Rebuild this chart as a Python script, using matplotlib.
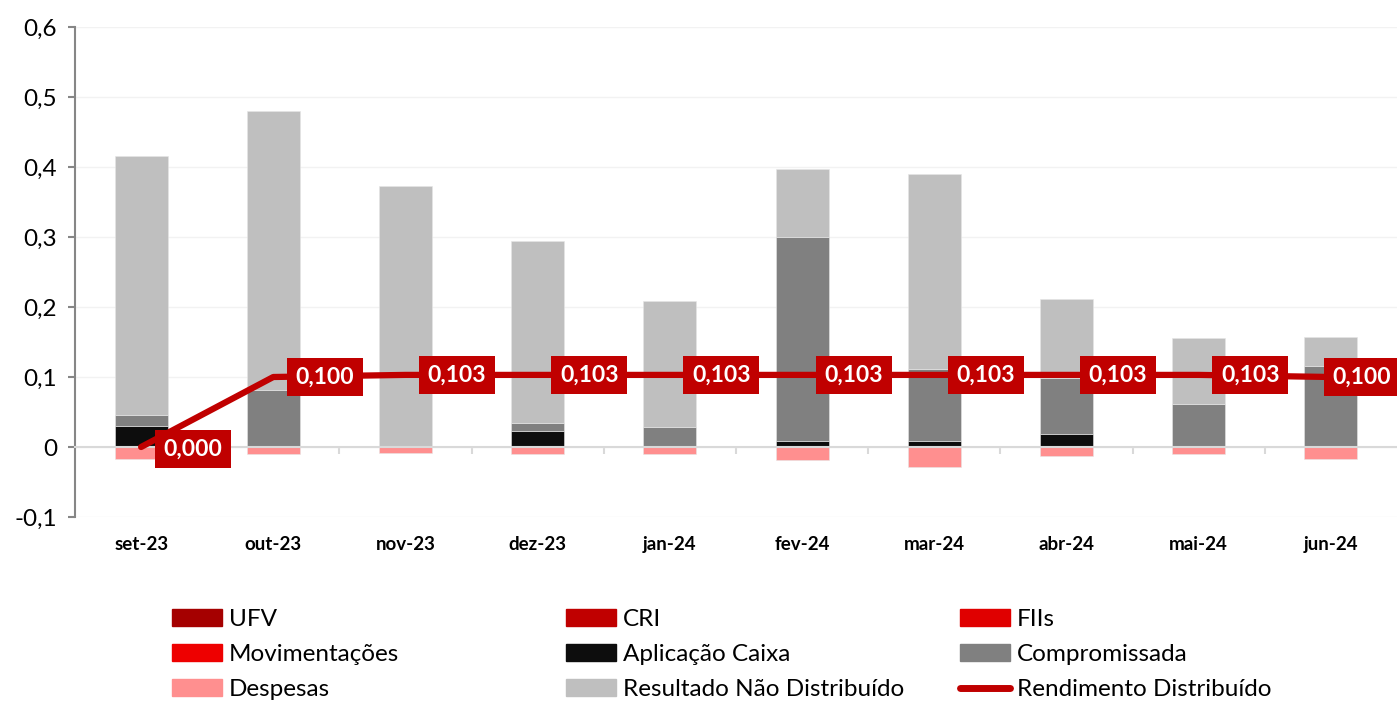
import numpy as np
import matplotlib.pyplot as plt
from matplotlib.patches import Patch
from matplotlib.lines import Line2D
from matplotlib.ticker import FuncFormatter

plt.rcParams['font.family'] = ['Lato', 'DejaVu Sans']

months = ['set-23', 'out-23', 'nov-23', 'dez-23', 'jan-24',
          'fev-24', 'mar-24', 'abr-24', 'mai-24', 'jun-24']

ufv = [0, 0, 0, 0, 0, 0, 0, 0, 0, 0.002]
cri = [0, 0, 0, 0, 0, 0, 0, 0, 0, 0]
fiis = [0, 0, 0, 0, 0, 0, 0, 0, 0, 0]
movimentacoes = [0, 0, 0, 0, 0, 0, 0, 0, 0, 0]
aplicacao_caixa = [0.030, 0, 0, 0.023, 0, 0.009, 0.008, 0.018, 0, 0]
compromissada = [0.016, 0.081, 0.002, 0.012, 0.028, 0.291, 0.103, 0.081, 0.062, 0.114]
resultado = [0.370, 0.399, 0.371, 0.259, 0.181, 0.097, 0.279, 0.112, 0.094, 0.041]
despesas = [-0.017, -0.010, -0.009, -0.010, -0.010, -0.018, -0.029, -0.013, -0.010, -0.017]
rendimento = [0.000, 0.100, 0.103, 0.103, 0.103, 0.103, 0.103, 0.103, 0.103, 0.100]

series = [
    ('UFV', ufv, '#a50000'),
    ('CRI', cri, '#c00000'),
    ('FIIs', fiis, '#e00000'),
    ('Movimentações', movimentacoes, '#ee0000'),
    ('Aplicação Caixa', aplicacao_caixa, '#0d0d0d'),
    ('Compromissada', compromissada, '#808080'),
    ('Resultado Não Distribuído', resultado, '#bfbfbf'),
]
desp_color = '#ff8f8f'
line_color = '#c00000'

fig = plt.figure(figsize=(13.97, 7.13), dpi=100)
ax = fig.add_axes([75 / 1397, 1 - 517 / 713, 1 - 75 / 1397, 490 / 713])

x = np.arange(len(months))
width = 0.4

bottom = np.zeros(len(months))
for name, vals, col in series:
    vals = np.array(vals)
    ax.bar(x, vals, width, bottom=bottom, color=col, edgecolor='#e6e6e6',
           linewidth=0.4, zorder=2)
    bottom += vals
ax.bar(x, despesas, width, color=desp_color, edgecolor='#e6e6e6',
       linewidth=0.4, zorder=2)

ax.plot(x, rendimento, color=line_color, linewidth=4.5,
        solid_capstyle='round', zorder=3)

for i, v in enumerate(rendimento):
    off = 16 if i < len(rendimento) - 1 else 1
    dy = -1.5 if i == 0 else 0
    ax.annotate(f'{v:.3f}'.replace('.', ','), (x[i], v),
                xytext=(off, dy), textcoords='offset points',
                ha='left', va='center', color='white', fontsize=16.5,
                fontweight='bold', zorder=4,
                bbox=dict(boxstyle='square,pad=0.38', fc=line_color,
                          ec='none'))

ax.set_xlim(-0.5, len(months) - 0.5)
ax.set_ylim(-0.1, 0.6)
ax.set_yticks(np.arange(-0.1, 0.61, 0.1))
ax.yaxis.set_major_formatter(
    FuncFormatter(lambda v, p: ('%.1f' % v).replace('.', ',').replace('-0,0', '0').replace('0,0', '0')))
ax.grid(axis='y', color='#f2f2f2', linewidth=1, zorder=0)
ax.set_axisbelow(True)

for s in ['top', 'right']:
    ax.spines[s].set_visible(False)
ax.spines['left'].set_color('#868686')
ax.spines['left'].set_linewidth(1.5)
ax.spines['bottom'].set_position(('data', 0))
ax.spines['bottom'].set_color('#d9d9d9')
ax.spines['bottom'].set_linewidth(1.5)

ax.tick_params(axis='y', direction='out', length=5, width=1.5,
               color='#868686', labelsize=17.5, pad=8)
ax.set_xticks(x)
ax.set_xticklabels(months, fontsize=13.5, fontweight='bold')
ax.tick_params(axis='x', length=0, pad=64)
ax.set_xticks(x[:-1] + 0.5, minor=True)
ax.tick_params(axis='x', which='minor', direction='out', length=5,
               width=1.5, color='#d9d9d9')

handles = [Patch(color=c) for _, _, c in series]
labels = [n for n, _, _ in series]
handles.insert(6, Patch(color=desp_color))
labels.insert(6, 'Despesas')
handles.append(Line2D([0], [0], color=line_color, linewidth=5,
                      solid_capstyle='round'))
labels.append('Rendimento Distribuído')

# Legend laid out row by row, three columns
col_x = [172, 566, 960]
for c in range(3):
    leg = fig.legend([handles[r * 3 + c] for r in range(3)],
                     [labels[r * 3 + c] for r in range(3)],
                     loc='upper left',
                     bbox_to_anchor=(col_x[c] / 1397, 1 - 609 / 713),
                     frameon=False, fontsize=17.5, handlelength=2.05,
                     handleheight=0.66, handletextpad=0.3,
                     labelspacing=0.58, borderaxespad=0, borderpad=0)

fig.savefig('out.png', dpi=100)
